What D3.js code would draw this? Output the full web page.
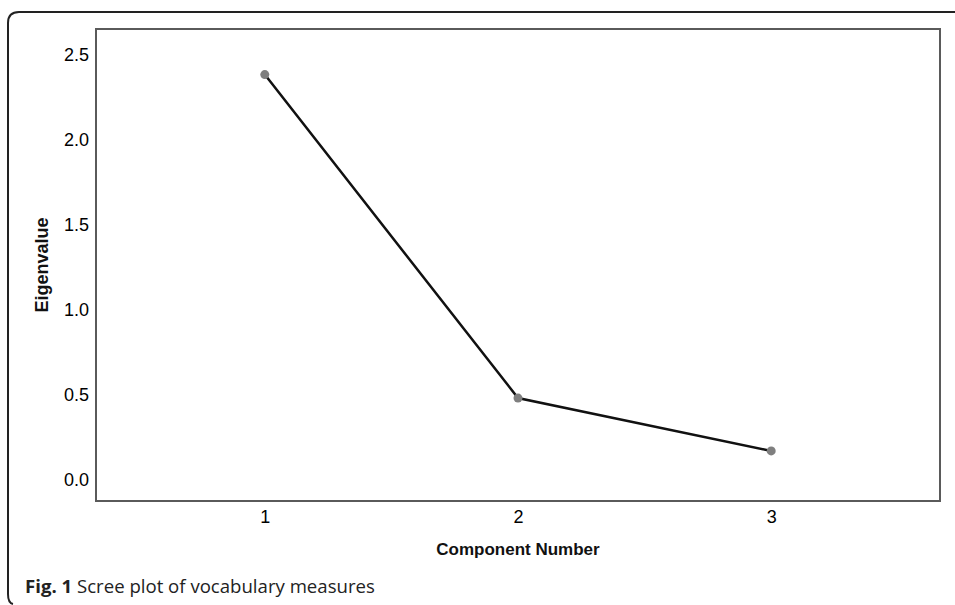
<html>
<script src='https://d3js.org/d3.v7.min.js'></script>
<style>
body {margin: 0; background: white;}
.tick line {display: none;}
.domain {display: none;}
.tick text {font-family: "Liberation Sans", Arial, sans-serif; font-size: 18px; fill: #000;}
</style>
<body>
<svg width=955 height=605></svg>
<script>
// scree plot values
var components = [1, 2, 3];
var eigenvalues = [2.385, 0.482, 0.171];
var yTicks = [0, 0.5, 1.0, 1.5, 2.0, 2.5];

var plotLeft = 96, plotRight = 940, plotTop = 29, plotBottom = 501;

var svg = d3.select("svg");

// outer frame bracket (top line + left line, rounded corners)
svg.append("path")
   .attr("d", "M955,12 L19,12 Q8,12 8,23 L8,594 Q8,603 13,604")
   .attr("fill", "none")
   .attr("stroke", "#222")
   .attr("stroke-width", 2);

var xs = d3.scaleLinear().domain([1/3, 11/3]).range([plotLeft, plotRight]);
var ys = d3.scaleLinear().domain([-0.1235, 2.653]).range([plotBottom, plotTop]);

// plot box
svg.append("rect")
   .attr("x", plotLeft).attr("y", plotTop)
   .attr("width", plotRight - plotLeft).attr("height", plotBottom - plotTop)
   .attr("fill", "none")
   .attr("stroke", "#5a5a5a")
   .attr("stroke-width", 2);

svg.append("g").attr("transform", "translate(" + (plotLeft - 7) + ",0)")
   .call(d3.axisLeft(ys).tickValues(yTicks).tickFormat(d3.format(".1f")).tickSize(0).tickPadding(0));

svg.append("g").attr("transform", "translate(0," + (plotBottom + 9) + ")")
   .call(d3.axisBottom(xs).tickValues(components).tickFormat(d3.format("d")).tickSize(0).tickPadding(0));

// line
var line = d3.line()
   .x(function(d, i) { return xs(components[i]); })
   .y(function(d) { return ys(d); });

svg.append("path")
   .datum(eigenvalues)
   .attr("d", line)
   .attr("fill", "none")
   .attr("stroke", "#111")
   .attr("stroke-width", 2.5);

svg.selectAll("circle.pt")
   .data(eigenvalues)
   .enter()
   .append("circle")
   .attr("class", "pt")
   .attr("cx", function(d, i) { return xs(components[i]); })
   .attr("cy", function(d) { return ys(d); })
   .attr("r", 4.5)
   .attr("fill", "#7f7f7f");

// axis titles
svg.append("text")
   .attr("x", (plotLeft + plotRight) / 2)
   .attr("y", 555)
   .attr("text-anchor", "middle")
   .style("font-family", "'Liberation Sans', Arial, sans-serif")
   .style("font-weight", "bold")
   .style("font-size", "17px")
   .attr("fill", "#111")
   .text("Component Number");

svg.append("text")
   .attr("transform", "translate(48," + ((plotTop + plotBottom) / 2) + ") rotate(-90)")
   .attr("text-anchor", "middle")
   .style("font-family", "'Liberation Sans', Arial, sans-serif")
   .style("font-weight", "bold")
   .style("font-size", "18px")
   .attr("fill", "#111")
   .text("Eigenvalue");

// caption
var cap = svg.append("text")
   .attr("x", 25)
   .attr("y", 593)
   .style("font-family", "'Open Sans', sans-serif")
   .style("font-size", "18.6px")
   .attr("fill", "#222");
cap.append("tspan").style("font-weight", "bold").text("Fig. 1");
cap.append("tspan").text(" Scree plot of vocabulary measures");
</script>
</body>
</html>
